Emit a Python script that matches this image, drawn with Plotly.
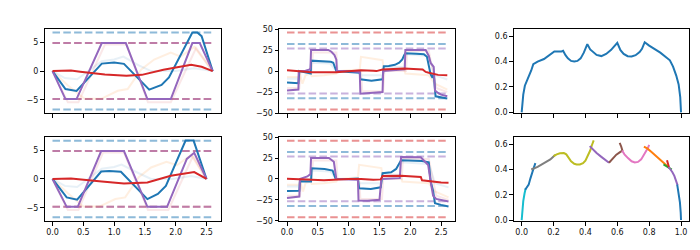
import plotly.graph_objects as go

# ---------------- data: left column (top / bottom) ----------------
tl_blue_t = [0, 0.21, 0.39, 0.80, 1.00, 1.16, 1.57, 1.77, 1.89, 2.27, 2.35, 2.42, 2.60]
tl_blue_y = [0, -3.1, -3.44, 1.3, 1.5, 1.25, -3.2, -2.4, -1.1, 6.68, 6.68, 6.05, 0]
tl_purple_t = [0, 0.21, 0.39, 0.80, 1.19, 1.54, 1.92, 2.27, 2.39, 2.60]
tl_purple_y = [0, -4.85, -4.85, 4.85, 4.85, -4.85, -4.85, 4.85, 4.85, 0]
tl_red_t = [0, 0.15, 0.30, 0.45, 0.85, 1.20, 1.45, 1.80, 2.05, 2.25, 2.42, 2.60]
tl_red_y = [0, 0.08, 0.1, -0.1, -0.6, -0.8, -0.65, 0.25, 0.7, 1.1, 0.75, 0]
tl_fblue_t = [0, 0.2, 0.4, 0.8, 1.0, 1.15, 1.4, 1.6, 2.0, 2.3, 2.6]
tl_fblue_y = [0, -1.2, -1.4, 1.7, 2.0, 2.5, 1.0, 0, 0, 0.5, 0]
tl_forange_t = [0, 0.25, 0.52, 0.79, 1.06, 1.22, 1.44, 1.65, 1.92, 2.08, 2.30, 2.60]
tl_forange_y = [0, -2.5, -4.8, -4.8, -3.4, -3.1, 0.3, 2.0, 3.2, 2.5, 4.2, 0]
tl_fred_t = [0, 0.25, 0.42, 0.85, 1.20, 1.55, 1.92, 2.33, 2.60]
tl_fred_y = [0, -5.4, -5.4, 4.6, 4.6, -5.4, -5.4, 4.0, 0]

bl_blue_t = [0, 0.23, 0.40, 0.79, 0.92, 1.11, 1.54, 1.71, 1.84, 2.16, 2.29, 2.50]
bl_blue_y = [0, -3.2, -3.6, 1.3, 1.4, 1.25, -3.5, -2.6, -1.2, 6.68, 6.68, 0]
bl_purple_t = [0, 0.23, 0.41, 0.79, 1.16, 1.54, 1.86, 2.18, 2.30, 2.50]
bl_purple_y = [0, -4.85, -4.85, 4.85, 4.85, -4.85, -4.85, 3.5, 4.55, 0]
bl_red_t = [0, 0.15, 0.30, 0.80, 1.16, 1.54, 1.92, 2.30, 2.50]
bl_red_y = [0, 0.08, 0.1, -0.45, -0.8, -0.6, 0.55, 1.2, 0]
bl_fblue_t = [0, 0.2, 0.4, 0.8, 1.0, 1.12, 1.4, 1.6, 1.95, 2.25, 2.5]
bl_fblue_y = [0, -1.2, -1.4, 1.8, 2.1, 2.5, 1.0, 0, 0, 0.5, 0]
bl_forange_t = [0, 0.25, 0.50, 0.76, 1.02, 1.18, 1.40, 1.60, 1.85, 2.02, 2.25, 2.50]
bl_forange_y = [0, -2.5, -4.8, -4.8, -3.5, -3.2, 0.3, 2.0, 3.0, 2.4, 4.2, 0]
bl_fred_t = [0, 0.25, 0.42, 0.82, 1.16, 1.55, 1.88, 2.28, 2.50]
bl_fred_y = [0, -5.4, -5.4, 4.6, 4.6, -5.4, -5.4, 4.0, 0]

left_t_end = [0, 2.6]
left_blue_lim = 6.66
left_red_lim = 4.85
left_purple_lim = 4.85

# ---------------- data: middle column ----------------
tm_blue_t = [0, 0.185, 0.20, 0.30, 0.385, 0.39, 0.55, 0.66, 0.71, 0.75, 0.80, 1.00, 1.18, 1.19, 1.37, 1.55, 1.57, 1.65, 1.75, 1.82, 1.87, 1.90, 1.92, 2.10, 2.22, 2.27, 2.30, 2.33, 2.36, 2.38, 2.41, 2.50, 2.60]
tm_blue_y = [-13.5, -14.5, 0, -2, -3, 12.4, 12.0, 11.5, 11, 10, 0, -1, -2, -9.7, -11.5, -9.7, 5.8, 6.0, 7.5, 10, 14, 19, 21.3, 20.5, 20, 17, 5, -4, -8, -3, -30, -31, -32.5]
tm_purple_t = [0, 0.185, 0.19, 0.30, 0.37, 0.38, 0.39, 0.67, 0.72, 0.77, 0.80, 0.81, 1.00, 1.18, 1.19, 1.40, 1.55, 1.56, 1.70, 1.91, 1.92, 2.25, 2.30, 2.33, 2.38, 2.40, 2.45, 2.50, 2.60]
tm_purple_y = [-23.2, -22, 0, 0.5, 2, 4, 25.2, 25.2, 23, 19, 13.6, 0, 0, -1, -27, -26, -25, 0, 1, 2, 25, 25, 18, 9.7, 5, -23, -26, -28, -30]
tm_red_t = [0, 0.4, 0.8, 1.0, 1.2, 1.4, 1.45, 1.55, 1.9, 2.2, 2.25, 2.3, 2.45, 2.6]
tm_red_y = [1, -1.5, -1.5, 0, 1, 0.5, 0, 2, 3, 2, -1, -2, -4.5, -5]
tm_forange_t = [0, 0.18, 0.2, 0.25, 0.3, 0.38, 0.4, 0.6, 0.8, 0.82, 1.0, 1.18, 1.2, 1.4, 1.55, 1.57, 1.9, 1.92, 2.2, 2.3, 2.4, 2.6]
tm_forange_y = [-7, -7, -2, -15, -5, -3, -6, -5, -3, 0, 1, 2, 17, 15, 13, 2, 2, -3, -5, -5, -15, -22]
tm_fblue_t = [0, 0.18, 0.2, 0.38, 0.4, 0.7, 0.8, 1.18, 1.2, 1.55, 1.57, 1.9, 1.92, 2.3, 2.4, 2.6]
tm_fblue_y = [-9, -9, -1, -1, 10, 9, 0, 0, -5, -5, 5, 5, 20, 18, -5, -10]
tm_fred_t = [0, 0.2, 0.22, 0.4, 0.42, 0.8, 0.82, 1.2, 1.22, 1.56, 1.58, 1.93, 1.95, 2.3, 2.42, 2.6]
tm_fred_y = [-20, -20, 0, 0, 22, 22, 0, 0, -24, -24, 0, 0, 24, 24, -20, -25]

bm_blue_t = [0, 0.20, 0.21, 0.30, 0.39, 0.40, 0.61, 0.74, 0.79, 1.00, 1.15, 1.17, 1.36, 1.52, 1.55, 1.69, 1.77, 1.85, 1.97, 2.19, 2.30, 2.33, 2.37, 2.40, 2.50, 2.62]
bm_blue_y = [-14.3, -14, -2.7, -3, -3, 12.8, 12, 10, 0, 0, 0.5, -11.2, -12, -10, 7, 8, 12, 22.5, 22, 21.4, 20, -2.7, -14.3, -29, -31, -33]
bm_purple_t = [0, 0.20, 0.21, 0.33, 0.38, 0.39, 0.68, 0.76, 0.80, 1.00, 1.15, 1.16, 1.31, 1.50, 1.53, 1.83, 1.85, 2.17, 2.29, 2.33, 2.37, 2.42, 2.62]
bm_purple_y = [-22.9, -21, 0, 3, 5.8, 25.2, 25.2, 20.6, 0, -0.5, -1, -25.9, -26, -25, 0, 1, 26.4, 26, 16.7, -3, -20, -23.9, -27]
bm_red_t = [0, 0.6, 1.0, 1.2, 1.4, 1.52, 1.55, 1.85, 2.17, 2.19, 2.5, 2.62]
bm_red_y = [0.4, -1.5, 0, 0, -1, -0.5, 3.5, 4, 2.5, -1.5, -4.3, -4.6]
bm_forange_t = [0, 0.19, 0.21, 0.26, 0.3, 0.38, 0.4, 0.6, 0.8, 0.82, 1.0, 1.15, 1.17, 1.4, 1.53, 1.55, 1.85, 1.87, 2.2, 2.3, 2.4, 2.62]
bm_forange_y = [-7, -7, -2, -15, -5, -3, -6, -5, -3, 0, 1, 2, 17, 15, 13, 2, 2, -3, -5, -5, -15, -22]
bm_fblue_t = [0, 0.19, 0.21, 0.38, 0.4, 0.7, 0.8, 1.15, 1.17, 1.53, 1.55, 1.83, 1.85, 2.3, 2.4, 2.62]
bm_fblue_y = [-9, -9, -1, -1, 10, 9, 0, 0, -5, -5, 5, 5, 20, 18, -5, -10]
bm_fred_t = [0, 0.21, 0.23, 0.4, 0.42, 0.8, 0.82, 1.17, 1.19, 1.54, 1.56, 1.86, 1.88, 2.3, 2.42, 2.62]
bm_fred_y = [-20, -20, 0, 0, 22, 22, 0, 0, -24, -24, 0, 0, 24, 24, -20, -25]

mid_t_end = [0, 2.6]
mid_red_lim = 45.8
mid_blue_lim = 32.2
mid_purple_lim = 26.8

# ---------------- data: right column ----------------
tr_x = [0, 0.004, 0.01, 0.02, 0.03, 0.045, 0.06, 0.073, 0.10, 0.14, 0.17, 0.205, 0.25, 0.26, 0.275, 0.29, 0.31, 0.33, 0.35, 0.37, 0.39, 0.412, 0.43, 0.45, 0.47, 0.50, 0.53, 0.56, 0.58, 0.60, 0.62, 0.64, 0.665, 0.69, 0.715, 0.74, 0.755, 0.772, 0.80, 0.83, 0.87, 0.93, 0.95, 0.97, 0.985, 0.995, 1.0]
tr_y = [0, 0.08, 0.14, 0.21, 0.24, 0.28, 0.33, 0.38, 0.40, 0.42, 0.445, 0.48, 0.48, 0.485, 0.45, 0.425, 0.405, 0.40, 0.405, 0.425, 0.47, 0.537, 0.495, 0.47, 0.452, 0.443, 0.46, 0.49, 0.515, 0.547, 0.49, 0.46, 0.442, 0.44, 0.45, 0.475, 0.50, 0.552, 0.525, 0.50, 0.47, 0.41, 0.36, 0.29, 0.22, 0.12, 0]

br_cyan_x = [0, 0.005, 0.01, 0.018, 0.025]
br_cyan_y = [0, 0.08, 0.15, 0.21, 0.25]
br_blue_x = [0.022, 0.035, 0.044, 0.055, 0.065, 0.075, 0.086]
br_blue_y = [0.24, 0.265, 0.28, 0.33, 0.38, 0.41, 0.45]
br_blue2_x = [0.976, 0.985, 0.993, 0.998, 1.0]
br_blue2_y = [0.28, 0.22, 0.14, 0.06, 0]
br_gray_x = [0.06, 0.10, 0.14, 0.18, 0.21]
br_gray_y = [0.40, 0.42, 0.45, 0.48, 0.515]
br_olive_x = [0.20, 0.22, 0.24, 0.265, 0.28, 0.295, 0.31, 0.33, 0.345, 0.365, 0.385, 0.40, 0.417, 0.43, 0.44, 0.452]
br_olive_y = [0.505, 0.52, 0.528, 0.53, 0.52, 0.49, 0.465, 0.445, 0.44, 0.44, 0.45, 0.47, 0.51, 0.55, 0.59, 0.63]
br_purple_x = [0.427, 0.45, 0.47, 0.50, 0.52, 0.548]
br_purple_y = [0.585, 0.555, 0.53, 0.50, 0.48, 0.453]
br_purple2_x = [0.922, 0.935, 0.945, 0.958, 0.968, 0.978]
br_purple2_y = [0.42, 0.40, 0.38, 0.35, 0.31, 0.276]
br_brown_x = [0.548, 0.57, 0.594, 0.615, 0.632, 0.625, 0.615]
br_brown_y = [0.453, 0.485, 0.517, 0.535, 0.55, 0.58, 0.61]
br_pink_x = [0.63, 0.645, 0.667, 0.69, 0.71, 0.73, 0.75, 0.765, 0.78, 0.792, 0.80]
br_pink_y = [0.55, 0.52, 0.49, 0.465, 0.455, 0.46, 0.48, 0.51, 0.54, 0.57, 0.595]
br_orange_x = [0.767, 0.79, 0.813, 0.835, 0.854, 0.875, 0.896, 0.915]
br_orange_y = [0.58, 0.565, 0.54, 0.515, 0.49, 0.465, 0.44, 0.425]
br_green_x = [0.89, 0.91, 0.93, 0.942]
br_green_y = [0.44, 0.425, 0.415, 0.40]
br_red_x = [0.912, 0.917, 0.921, 0.926]
br_red_y = [0.474, 0.45, 0.43, 0.41]

left_ticks = [0, 0.5, 1.0, 1.5, 2.0, 2.5]
left_ytick = [-5, 0, 5]
mid_ytick = [-50, -25, 0, 25, 50]
right_xtick = [0, 0.2, 0.4, 0.6, 0.8, 1.0]
right_ytick = [0, 0.2, 0.4, 0.6]

BLUE, ORANGE, GREEN, RED = "#1f77b4", "#ff7f0e", "#2ca02c", "#d62728"
PURPLE, BROWN, PINK, GRAY = "#9467bd", "#8c564b", "#e377c2", "#7f7f7f"
OLIVE, CYAN = "#bcbd22", "#17becf"

fig = go.Figure()

def add(x, y, ax, color, width=2.0, opacity=1.0, dash=None):
    line = dict(color=color, width=width)
    if dash:
        line["dash"] = dash
    fig.add_trace(go.Scatter(x=x, y=y, mode="lines", line=line, opacity=opacity,
                             xaxis="x" + ax, yaxis="y" + ax, showlegend=False,
                             hoverinfo="skip"))

DASH = "7.5px,3.3px"

def left_panel(ax, fb, fo, fr, b, p, r):
    add(left_t_end, [left_blue_lim] * 2, ax, BLUE, 2, 0.5, DASH)
    add(left_t_end, [-left_blue_lim] * 2, ax, BLUE, 2, 0.5, DASH)
    add(left_t_end, [left_red_lim] * 2, ax, RED, 2, 0.5, DASH)
    add(left_t_end, [-left_red_lim] * 2, ax, RED, 2, 0.5, DASH)
    add(left_t_end, [left_purple_lim] * 2, ax, PURPLE, 2, 0.5, DASH)
    add(left_t_end, [-left_purple_lim] * 2, ax, PURPLE, 2, 0.5, DASH)
    add(fb[0], fb[1], ax, BLUE, 2, 0.1)
    add(fo[0], fo[1], ax, ORANGE, 2, 0.12)
    add(fr[0], fr[1], ax, RED, 2, 0.1)
    add(b[0], b[1], ax, BLUE)
    add(p[0], p[1], ax, PURPLE)
    add(r[0], r[1], ax, RED)

def mid_panel(ax, fb, fo, fr, b, p, r):
    add(mid_t_end, [mid_red_lim] * 2, ax, RED, 2, 0.5, DASH)
    add(mid_t_end, [-mid_red_lim] * 2, ax, RED, 2, 0.5, DASH)
    add(mid_t_end, [mid_blue_lim] * 2, ax, BLUE, 2, 0.5, DASH)
    add(mid_t_end, [-mid_blue_lim] * 2, ax, BLUE, 2, 0.5, DASH)
    add(mid_t_end, [mid_purple_lim] * 2, ax, PURPLE, 2, 0.5, DASH)
    add(mid_t_end, [-mid_purple_lim] * 2, ax, PURPLE, 2, 0.5, DASH)
    add(fb[0], fb[1], ax, BLUE, 2, 0.1)
    add(fo[0], fo[1], ax, ORANGE, 2, 0.12)
    add(fr[0], fr[1], ax, RED, 2, 0.1)
    add(b[0], b[1], ax, BLUE)
    add(p[0], p[1], ax, PURPLE)
    add(r[0], r[1], ax, RED)

left_panel("", (tl_fblue_t, tl_fblue_y), (tl_forange_t, tl_forange_y), (tl_fred_t, tl_fred_y),
           (tl_blue_t, tl_blue_y), (tl_purple_t, tl_purple_y), (tl_red_t, tl_red_y))
mid_panel("2", (tm_fblue_t, tm_fblue_y), (tm_forange_t, tm_forange_y), (tm_fred_t, tm_fred_y),
          (tm_blue_t, tm_blue_y), (tm_purple_t, tm_purple_y), (tm_red_t, tm_red_y))
add(tr_x, tr_y, "3", BLUE)
left_panel("4", (bl_fblue_t, bl_fblue_y), (bl_forange_t, bl_forange_y), (bl_fred_t, bl_fred_y),
           (bl_blue_t, bl_blue_y), (bl_purple_t, bl_purple_y), (bl_red_t, bl_red_y))
mid_panel("5", (bm_fblue_t, bm_fblue_y), (bm_forange_t, bm_forange_y), (bm_fred_t, bm_fred_y),
          (bm_blue_t, bm_blue_y), (bm_purple_t, bm_purple_y), (bm_red_t, bm_red_y))
for sx, sy, c in [(br_cyan_x, br_cyan_y, CYAN), (br_blue_x, br_blue_y, BLUE),
                  (br_gray_x, br_gray_y, GRAY), (br_olive_x, br_olive_y, OLIVE),
                  (br_purple_x, br_purple_y, PURPLE), (br_brown_x, br_brown_y, BROWN),
                  (br_pink_x, br_pink_y, PINK), (br_orange_x, br_orange_y, ORANGE),
                  (br_green_x, br_green_y, GREEN), (br_red_x, br_red_y, RED),
                  (br_purple2_x, br_purple2_y, PURPLE), (br_blue2_x, br_blue2_y, BLUE)]:
    add(sx, sy, "6", c)

W, H = 700, 250
cols = [(36.5, 212.7), (271.0, 447.3), (505.7, 681.0)]
rows = [(17.3, 104.8), (129.0, 216.0)]

def xd(c):
    return [cols[c][0] / W, cols[c][1] / W]

def yd(r):
    return [1 - rows[r][1] / H, 1 - rows[r][0] / H]

common = dict(showline=True, mirror=True, linecolor="black", linewidth=1,
              ticks="outside", ticklen=3.5, tickwidth=1, tickcolor="black",
              showgrid=False, zeroline=False,
              tickfont=dict(family="DejaVu Sans", size=8, color="#111"))

layout = dict(width=W, height=H, margin=dict(l=0, r=0, t=0, b=0),
              paper_bgcolor="white", plot_bgcolor="white", showlegend=False)

specs = [
    ("", 0, 0, [-0.13, 2.73], left_ticks, [-7.33, 7.33], left_ytick, False),
    ("2", 0, 1, [-0.13, 2.73], left_ticks, [-50.4, 50.4], mid_ytick, False),
    ("3", 0, 2, [-0.05, 1.05], right_xtick, [-0.008, 0.658], right_ytick, False),
    ("4", 1, 0, [-0.13, 2.73], left_ticks, [-7.33, 7.33], left_ytick, True),
    ("5", 1, 1, [-0.13, 2.73], left_ticks, [-50.4, 50.4], mid_ytick, True),
    ("6", 1, 2, [-0.05, 1.05], right_xtick, [-0.008, 0.658], right_ytick, True),
]
for ax, r, c, xr, xt, yr, yt, showx in specs:
    xname = "xaxis" + ax
    yname = "yaxis" + ax
    fmt = ".1f" if c != 1 or True else None
    layout[xname] = dict(common, domain=xd(c), range=xr, tickvals=xt,
                         tickformat=".1f", showticklabels=showx,
                         anchor="y" + ax)
    yfmt = ".1f" if c == 2 else "d"
    layout[yname] = dict(common, domain=yd(r), range=yr, tickvals=yt,
                         tickformat=yfmt, anchor="x" + ax)

fig.update_layout(**layout)
fig.write_html("out.html")
